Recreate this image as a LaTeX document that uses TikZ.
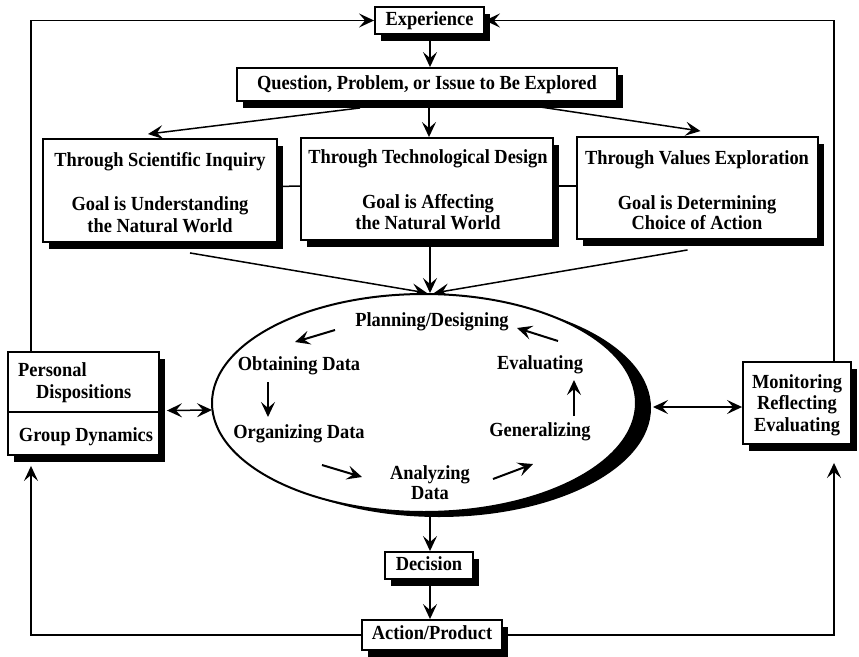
\documentclass[tikz,border=0pt]{standalone}
\usepackage{fontspec}
\setmainfont{Liberation Serif}[FakeStretch=0.92]
\usetikzlibrary{arrows.meta,shadows,shapes.geometric,calc}
\pgfdeclarelayer{wires}
\pgfsetlayers{wires,main}

\begin{document}
\begin{tikzpicture}[x=1pt,y=-1pt,
  >={Stealth[length=15pt,width=14pt,inset=6pt]},
  lbl/.style={font=\bfseries\fontsize{20}{22}\selectfont, inner sep=0pt, anchor=base},
  shade box/.style={draw, line width=1.9pt, fill=white, inner sep=0pt,
     font=\bfseries\fontsize{20}{22}\selectfont, text height=13pt, text depth=4pt,
     drop shadow={shadow xshift=6pt, shadow yshift=-7pt, fill=black, opacity=1}},
  wire/.style={line width=1.5pt},
  cycle arrow/.style={line width=2pt, ->},
]
\useasboundingbox (0,0) rectangle (859,656);

% outer loop rails
\coordinate (L) at (31,0);
\coordinate (R) at (834,0);

% boxes
\node[shade box, minimum width=109pt, minimum height=27pt] (Exp) at (429.5,20.5) {Experience};
\node[shade box, minimum width=380pt, minimum height=33pt] (Q) at (427,84.5) {Question, Problem, or Issue to Be Explored};
\node[shade box, minimum width=234pt, minimum height=103pt] (B1) at (160,190.5) {};
\node[shade box, minimum width=252pt, minimum height=102pt] (B2) at (427,189) {};
\node[shade box, minimum width=241pt, minimum height=102pt] (B3) at (697.5,188) {};
\node[shade box, minimum width=151pt, minimum height=103pt] (Pers) at (83.5,403.5) {};
\node[shade box, minimum width=108pt, minimum height=82pt] (Mon) at (797,403) {};
\node[shade box, minimum width=88pt, minimum height=27pt] (Dec) at (429,565.5) {Decision};
\node[shade box, minimum width=140pt, minimum height=30pt] (Act) at (432,635) {Action/Product};

% the inquiry cycle
\node[ellipse, draw, line width=2pt, fill=white, inner sep=0pt,
      minimum width=424pt, minimum height=218pt,
      drop shadow={shadow xshift=15pt, shadow yshift=-5pt, fill=black, opacity=1}]
      (E) at (424,403) {};

% box texts
\node[lbl] (b1a) at (160,166) {Through Scientific Inquiry};
\node[lbl] (b1b) at (160,210) {Goal is Understanding};
\node[lbl] (b1c) at (160,232) {the Natural World};
\node[lbl] (b2a) at (428,163) {Through Technological Design};
\node[lbl] (b2b) at (428,208) {Goal is Affecting};
\node[lbl] (b2c) at (428,229) {the Natural World};
\node[lbl] (b3a) at (697,164) {Through Values Exploration};
\node[lbl] (b3b) at (697,209) {Goal is Determining};
\node[lbl] (b3c) at (697,229) {Choice of Action};

\node[lbl, anchor=base west] (p1) at (18,376) {Personal};
\node[lbl, anchor=base west] (p2) at (36,398) {Dispositions};
\node[lbl] (p3) at (86,441) {Group Dynamics};
\draw[line width=1.7pt] ($(Pers.west)+(0,8.5)$) -- ($(Pers.east)+(0,8.5)$);

\node[lbl] (m1) at (797,388) {Monitoring};
\node[lbl] (m2) at (797,409) {Reflecting};
\node[lbl] (m3) at (797,431) {Evaluating};

% cycle stages
\node[lbl] (plan) at (432,326) {Planning/Designing};
\node[lbl] (obt)  at (299,370) {Obtaining Data};
\node[lbl] (org)  at (299,438) {Organizing Data};
\node[lbl] (ana)  at (430,479) {Analyzing};
\node[lbl] (anb)  at (430,499) {Data};
\node[lbl] (gen)  at (540,436) {Generalizing};
\node[lbl] (eva)  at (540,369) {Evaluating};

\coordinate (s1a) at (335,330); \coordinate (s1b) at (295,342);
\coordinate (s2a) at (268,382); \coordinate (s2b) at (268,417);
\coordinate (s3a) at (322,465); \coordinate (s3b) at (362,477);
\coordinate (s4a) at (493,479); \coordinate (s4b) at (533,464);
\coordinate (s5a) at (574,416); \coordinate (s5b) at (574,380);
\coordinate (s6a) at (558,341); \coordinate (s6b) at (517,328);
\draw[cycle arrow] (s1a) -- (s1b);
\draw[cycle arrow] (s2a) -- (s2b);
\draw[cycle arrow] (s3a) -- (s3b);
\draw[cycle arrow] (s4a) -- (s4b);
\draw[cycle arrow] (s5a) -- (s5b);
\draw[cycle arrow] (s6a) -- (s6b);

% connectors
\begin{pgfonlayer}{wires}
\draw[wire, ->] (Pers.north -| L) |- (Exp.west);
\draw[wire, ->] (Mon.north -| R) |- (Exp.east);
\draw[wire, ->] (Act.west) -| ($(Pers.south -| L)+(0,10)$);
\draw[wire, ->] (Act.east) -| ($(Mon.south -| R)+(0,18)$);

\draw[wire, ->] (Exp.south -| 430,0) -- (Q.north -| 430,0);
\draw[wire, ->] ($(Q.south)+(-67,6)$) -- ($(B1.north)+(-12,-4)$);
\draw[wire, ->] (Q.south -| 429,0) -- (B2.north -| 429,0);
\draw[wire, ->] ($(Q.south)+(113,5)$) -- ($(B3.north)+(3,-5)$);

\draw[wire] ($(B1.east)+(0,-4)$) -- ($(B2.west)+(0,-3)$);
\draw[wire] ($(B2.east)+(0,-3)$) -- ($(B3.west)+(0,-2)$);

\draw[wire, ->] ($(B1.south)+(30,10)$) -- ($(E.north)+(3,0)$);
\draw[wire, ->] (B2.south -| 430,0) -- (E.north -| 430,0);
\draw[wire, ->] ($(B3.south)+(-10,10)$) -- ($(E.north)+(10,0)$);

\draw[wire, ->] (E.south -| 430,0) -- (Dec.north -| 430,0);
\draw[wire, ->] (Dec.south -| 430,0) -- (Act.north -| 430,0);

\draw[wire, <->] ($(Pers.east)+(7,7)$) -- ($(E.west)+(1,7)$);
\draw[wire, <->] ($(E.east)+(16,4)$) -- ($(Mon.west)+(0,4)$);
\end{pgfonlayer}
\end{tikzpicture}
\end{document}
